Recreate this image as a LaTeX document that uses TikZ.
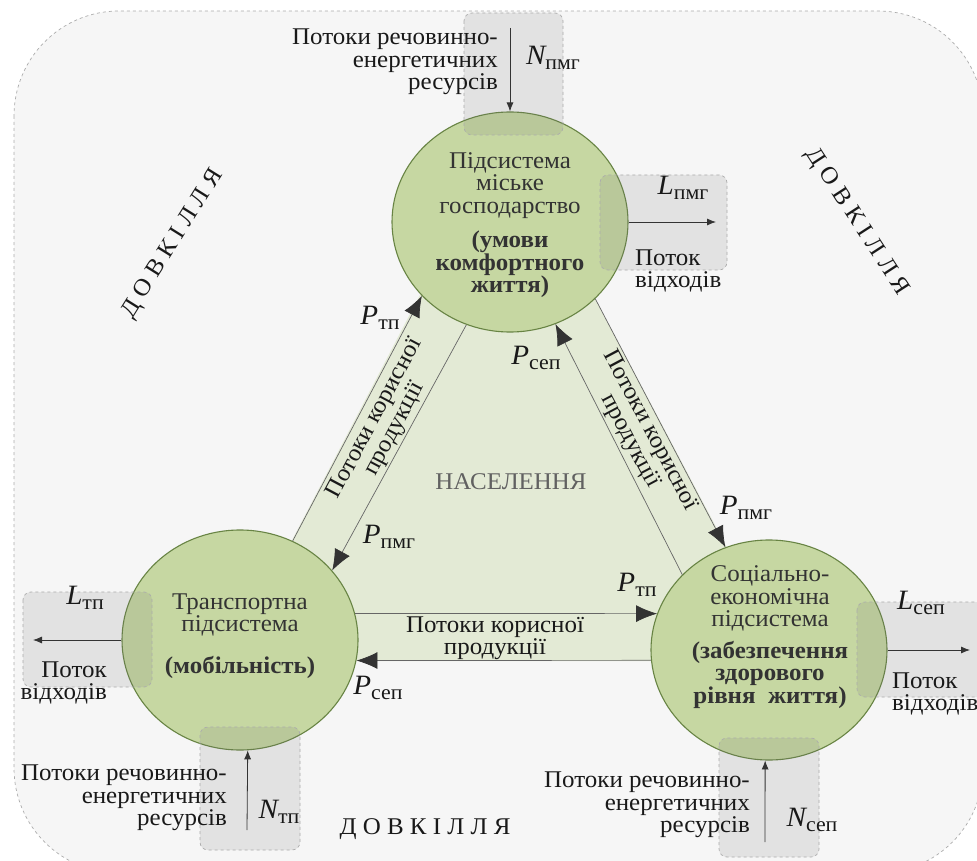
\documentclass[tikz,border=0pt]{standalone}
\usepackage{fontspec}
\setmainfont{Liberation Serif}[FakeStretch=1.04]
\usepackage{tikz}
\usetikzlibrary{arrows.meta, shapes.geometric}
\definecolor{ShellGray}{RGB}{246,246,246}
\definecolor{DashGray}{RGB}{172,172,172}
\definecolor{LeafGreen}{RGB}{198,215,162}
\definecolor{LeafEdge}{RGB}{104,132,68}
\definecolor{PaleGreen}{RGB}{227,234,213}
\definecolor{InkGray}{RGB}{51,51,51}
\newcommand{\flw}[2]{{\fontsize{28}{28}\selectfont\itshape #1}{\fontsize{21}{21}\selectfont\raisebox{-5pt}{#2}}}

\begin{document}
\begin{tikzpicture}[x=1pt, y=-1pt,
    font=\fontsize{24}{22.5}\selectfont,
    subsys/.style={ellipse, draw=LeafEdge, line width=1.1pt, fill=LeafGreen,
                   minimum width=236pt, minimum height=220pt, inner sep=0pt},
    systext/.style={align=center, text=InkGray, inner sep=0pt},
    flowbox/.style={draw=DashGray, dashed, line width=0.7pt, fill=black!55,
                    fill opacity=0.15, rounded corners=8pt},
    bigarrow/.style={draw=InkGray!75, line width=0.7pt, -{Latex[length=21pt, width=17pt, color=InkGray]}},
    smallarrow/.style={draw=InkGray, line width=0.8pt, -{Latex[length=9pt, width=7pt]}},
    note/.style={inner sep=0pt, text=black!90}]
    \useasboundingbox (0,0) rectangle (977,861);
    \clip (0,0) rectangle (977,861);

    % Довкілля
    \draw[DashGray, dashed, fill=ShellGray, line width=0.7pt, rounded corners=105pt]
        (14,11) rectangle (983,873);
    \fill[PaleGreen] (229,661) -- (506,130) -- (787,661) -- cycle;

    % Підсистеми
    \node[subsys] (cTop) at (510,222) {};
    \node[subsys] (cLeft) at (240,640) {};
    \node[subsys] (cRight) at (769,650) {};

    % Потоки корисної продукції
    \draw[bigarrow] (cLeft.62) -- (cTop.220);
    \draw[bigarrow] (cTop.247) -- (cLeft.37);
    \draw[bigarrow] (cRight.139) -- (cTop.294);
    \draw[bigarrow] (cTop.318) -- (cRight.113);
    \draw[bigarrow] (cLeft.13) -- (cRight.162);
    \draw[bigarrow] (cRight.185) -- (cLeft.350);

    % Входи і виходи
    \draw[flowbox] (464,13) rectangle (563,135);
    \draw[flowbox] (600,175) rectangle (727,270);
    \draw[flowbox] (23,592) rectangle (152,687);
    \draw[flowbox] (200,727) rectangle (300,850);
    \draw[flowbox] (857,602) rectangle (995,697);
    \draw[flowbox] (719,738) rectangle (819,857);

    \coordinate (nTopIn) at (510,28);
    \coordinate (lTopOut) at (716,222);
    \coordinate (lLeftOut) at (33,640);
    \coordinate (nLeftIn) at (247,830);
    \coordinate (lRightOut) at (970,650);
    \coordinate (nRightIn) at (765,842);
    \draw[smallarrow] (nTopIn) -- (cTop.north);
    \draw[smallarrow] (cTop.east) -- (lTopOut);
    \draw[smallarrow] (cLeft.west) -- (lLeftOut);
    \draw[smallarrow] (nLeftIn) -- (cLeft.274);
    \draw[smallarrow] (cRight.east) -- (lRightOut);
    \draw[smallarrow] (nRightIn) -- (cRight.268);

    % Тексти підсистем
    \node[systext] (tTop) at (510,225) {Підсистема\\міське\\господарство\\[12pt]
        \textbf{(умови}\\\textbf{комфортного}\\\textbf{життя)}};
    \node[systext] (tLeft) at (240,636) {Транспортна\\підсистема\\[19pt]\textbf{(мобільність)}};
    \node[systext] (tRight) at (770,637) {Соціально-\\економічна\\підсистема\\[9pt]
        \textbf{(забезпечення}\\\textbf{здорового}\\\textbf{рівня~ життя)}};

    % Підписи потоків
    \node[note] (pTopA) at (380,318) {\flw{P}{тп}};
    \node[note] (pLeftB) at (389,537) {\flw{P}{пмг}};
    \node[note] (pTopC) at (536,358) {\flw{P}{сеп}};
    \node[note] (pRightD) at (746,508) {\flw{P}{пмг}};
    \node[note] (pRightE) at (637,585) {\flw{P}{тп}};
    \node[note] (pLeftF) at (378,688) {\flw{P}{сеп}};

    \node[note, rotate=62, align=center] (ppLeft) at (385,424) {Потоки корисної\\продукції};
    \node[note, rotate=-62, align=center] (ppRight) at (640,436) {Потоки корисної\\продукції};
    \node[note, align=center] (ppBottom) at (495,638) {Потоки корисної\\продукції};
    \node[note, text=black!62] (pop) at (511,482) {НАСЕЛЕННЯ};

    \node[note] (nTopLbl) at (553,58) {\flw{N}{пмг}};
    \node[note] (nLeftLbl) at (279,812) {\flw{N}{тп}};
    \node[note] (nRightLbl) at (812,820) {\flw{N}{сеп}};
    \node[note] (lTopLbl) at (683,188) {\flw{L}{пмг}};
    \node[note] (lLeftLbl) at (85,598) {\flw{L}{тп}};
    \node[note] (lRightLbl) at (921,603) {\flw{L}{сеп}};

    \node[note, align=right, anchor=east] (rTop) at (498,62) {Потоки речовинно-\\енергетичних\\ресурсів};
    \node[note, align=right, anchor=east] (rLeft) at (227,798) {Потоки речовинно-\\енергетичних\\ресурсів};
    \node[note, align=right, anchor=east] (rRight) at (750,805) {Потоки речовинно-\\енергетичних\\ресурсів};
    \node[note, align=left, anchor=west] (wTop) at (635,271) {Поток\\відходів};
    \node[note, align=right, anchor=east] (wLeft) at (107,683) {Поток\\відходів};
    \node[note, align=left, anchor=west] (wRight) at (892,694) {Поток\\відходів};

    % Довкілля (підписи)
    \node[note, rotate=58] (envLeft) at (173,244) {Д О В К І Л Л Я};
    \node[note, rotate=-57] (envRight) at (857,222) {Д О В К І Л Л Я};
    \node[note] (envBottom) at (425,829) {Д О В К І Л Л Я};
\end{tikzpicture}
\end{document}
